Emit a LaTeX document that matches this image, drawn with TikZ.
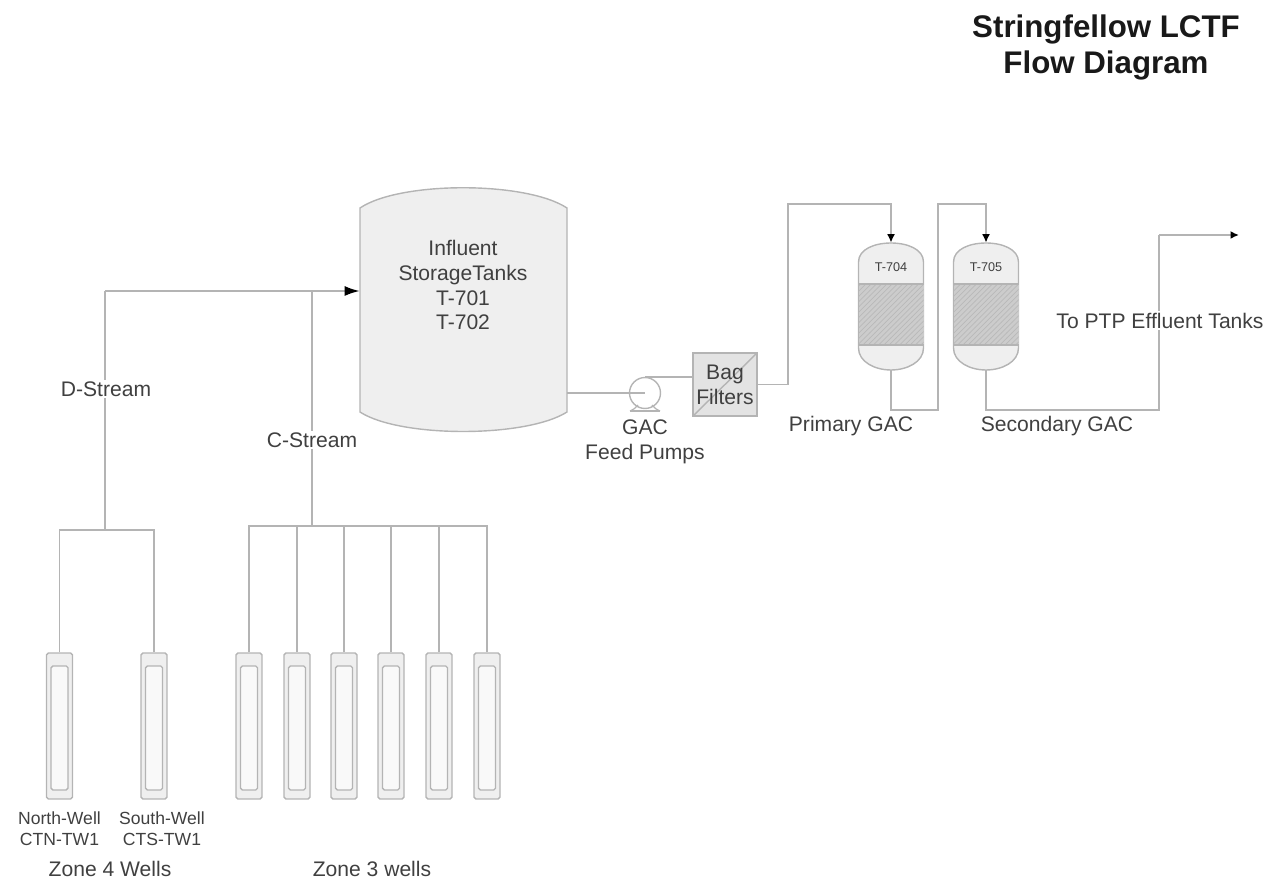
\documentclass[tikz,border=0pt]{standalone}
\usepackage{fontspec}
\setmainfont{Liberation Sans}
\usetikzlibrary{arrows.meta,calc,patterns}
\definecolor{linegray}{HTML}{B4B4B4}
\definecolor{shellgray}{HTML}{EFEFEF}
\definecolor{filtergray}{HTML}{E3E3E3}
\definecolor{textgray}{HTML}{404040}
\begin{document}
\begin{tikzpicture}[
        x=0.02cm, y=-0.02cm,
        flow/.style={draw=linegray, line width=1pt},
        feed/.style={flow, -{Latex[black, length=0.3cm, width=0.2cm]}},
        feedsmall/.style={flow, -{Latex[black, length=0.17cm, width=0.16cm]}},
        shell/.style={draw=linegray, line width=0.8pt, fill=shellgray},
        wellbox/.style={draw=linegray, line width=0.8pt, fill=shellgray, rounded corners=1pt,
          minimum width=0.52cm, minimum height=2.92cm, inner sep=0pt},
        label/.style={font=\fontsize{12}{14.2}\selectfont, text=textgray, align=center, inner sep=1pt},
        small/.style={font=\fontsize{10}{12}\selectfont, text=textgray, align=center, inner sep=1pt},
      ]
        \useasboundingbox (0,0) rectangle (1272,881);

        % Title
        \node[font=\fontsize{17.8}{20.5}\bfseries\selectfont, text=black!90, align=center, inner sep=0pt] (title) at (1106,47)
          {Stringfellow LCTF\\Flow Diagram};

        % Wells
        \foreach \i/\x in {1/59.5, 2/154} {
          \node[wellbox] (zf\i) at (\x,726) {};
          \draw[wellbox, fill=white!60!shellgray] (\x-8.5,666) rectangle (\x+8.5,790);
        }
        \foreach \i/\x in {1/249, 2/297, 3/344, 4/391, 5/439, 6/487} {
          \node[wellbox] (zt\i) at (\x,726) {};
          \draw[wellbox, fill=white!60!shellgray] (\x-8.5,666) rectangle (\x+8.5,790);
        }

        % Storage tank
        \draw[shell] (360,208) .. controls (400,181) and (526,181) .. (567,208)
          -- (567,412) .. controls (526,438) and (400,438) .. (360,412) -- cycle;
        \node[minimum width=4.14cm, minimum height=4.88cm, inner sep=0pt] (tank) at (463.5,310) {};
        \node[label] (tanktext) at (463,285) {Influent\\StorageTanks\\T-701\\T-702};

        % Pump and filter
        \node[circle, draw=linegray, line width=0.8pt, minimum size=0.62cm, inner sep=0pt] (pump) at (645,393) {};
        \draw[linegray, line width=0.7pt] (630,411) .. controls (634,409) and (636,408) .. (638,405);
        \draw[linegray, line width=0.7pt] (660,411) .. controls (656,409) and (654,408) .. (652,405);
        \draw[linegray, line width=0.7pt] (630,411) -- (660,411);
        \node[draw=linegray, line width=1pt, fill=filtergray, minimum width=1.28cm, minimum height=1.26cm,
          inner sep=0pt, label, path picture={\draw[linegray, line width=0.8pt]
          (path picture bounding box.south west) -- (path picture bounding box.north east);}]
          (filter) at (725,384.5) {Bag\\Filters};

        % GAC vessels
        \foreach \name/\x in {704/891, 705/986} {
          \begin{scope}[shift={(\x,0)}]
            \draw[shell] (-32.5,262) .. controls (-32.5,249) and (-16,243) .. (0,243)
              .. controls (16,243) and (32.5,249) .. (32.5,262) -- (32.5,348)
              .. controls (32.5,362) and (16,370) .. (0,370)
              .. controls (-16,370) and (-32.5,362) .. (-32.5,348) -- cycle;
            \fill[gray!40] (-32.5,284) rectangle (32.5,345);
            \fill[pattern=north east lines, pattern color=gray!55] (-32.5,284) rectangle (32.5,345);
            \draw[linegray, line width=0.8pt] (-32.5,284) -- (32.5,284);
            \draw[linegray, line width=0.8pt] (-32.5,345) -- (32.5,345);
          \end{scope}
          \node[minimum width=1.3cm, minimum height=2.54cm, inner sep=0pt] (v\name) at (\x,306.5) {};
          \node[font=\fontsize{7.2}{8}\selectfont, text=textgray, inner sep=1pt] (vtext\name) at (\x,267) {T-\name};
        }

        % Route points
        \coordinate (dtop) at (105,291);
        \coordinate (ctop) at (312,291);
        \coordinate (dbus) at (105,530);
        \coordinate (cbus) at (312,526);
        \coordinate (rise) at (788,204);
        \coordinate (lowa) at (938,410);
        \coordinate (higha) at (938,204);
        \coordinate (lowb) at (1159,410);
        \coordinate (highb) at (1159,235);
        \coordinate (outlet) at (1239,235);

        % Well lines
        \foreach \i in {1,2} \draw[flow, line width=0.7pt] (zf\i.north) |- (dbus);
        \foreach \i in {1,...,6} \draw[flow, line width=0.7pt] (zt\i.north) |- (cbus);
        \draw[flow] (dbus) -- (dtop);
        \draw[flow] (cbus) -- (ctop);
        \draw[feed] (dtop) -- (tank.west |- dtop);

        % Process lines
        \draw[flow] (tank.east |- pump) -- (pump.center);
        \draw[flow] (pump.north) -- (filter.west |- pump.north);
        \draw[feedsmall] (filter.east) -| (rise) -| (v704.north);
        \draw[feedsmall] (v704.south) |- (lowa) -- (higha) -| (v705.north);
        \draw[flow] (v705.south) |- (lowb) -- (highb);
        \draw[feedsmall] (highb) -- (outlet);

        % Labels
        \node[label, fill=white] (dstream) at (106,389) {D-Stream};
        \node[label, fill=white] (cstream) at (312,440) {C-Stream};
        \node[label] (pumptext) at (645,442) {GAC\\Feed Pumps};
        \node[label] (primary) at (851,426) {Primary GAC};
        \node[label] (secondary) at (1057,426) {Secondary GAC};
        \node[label, fill=white] (ptp) at (1160,321) {To PTP Effluent Tanks};
        \node[small] (north) at (59.5,829) {North-Well\\CTN-TW1};
        \node[small] (south) at (162,829) {South-Well\\CTS-TW1};
        \node[label] (zonefour) at (110,869) {Zone 4 Wells};
        \node[label] (zonethree) at (372,869) {Zone 3 wells};
      \end{tikzpicture}
\end{document}
